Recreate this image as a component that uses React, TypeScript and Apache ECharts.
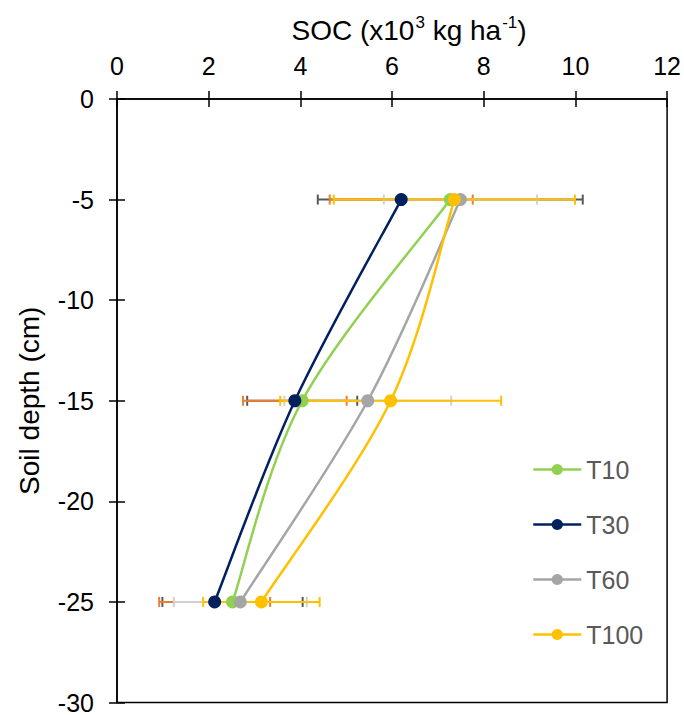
import React, { useEffect, useRef } from "react";
import * as echarts from "echarts";

const depths = [-5, -15, -25];
const seriesNames = ["T10", "T30", "T60", "T100"];
const t10 = [7.27, 4.04, 2.52];
const t30 = [6.2, 3.88, 2.13];
const t60 = [7.49, 5.47, 2.69];
const t100 = [7.36, 5.97, 3.15];
const t10Err = [2.89, 1.2, 1.53];
const t30Err = [1.56, 1.13, 1.21];
const t60Err = [1.67, 1.82, 1.45];
const t100Err = [2.63, 2.41, 1.27];

const lineColors = ["#92D050", "#002060", "#A5A5A5", "#FFC000"];
const errColors = ["#595959", "#ED7D31", "#D0D0D0", "#FFC000"];

const FONT = "Liberation Sans, Arial, sans-serif";

export default function App() {
  const ref = useRef<HTMLDivElement>(null);
  useEffect(() => {
    const chart = echarts.init(ref.current!, null, { renderer: "svg" });
    const values = [t10, t30, t60, t100];
    const errs = [t10Err, t30Err, t60Err, t100Err];

    const errSeries = values.map((vals, si) => ({
      type: "custom",
      name: "err" + si,
      xAxisIndex: 0,
      yAxisIndex: 0,
      z: 1,
      silent: true,
      data: vals.map((v, i) => [v, depths[i], errs[si][i]]),
      renderItem: (params: any, api: any) => {
        const x = api.value(0);
        const y = api.value(1);
        const e = api.value(2);
        const p1 = api.coord([x - e, y]);
        const p2 = api.coord([x + e, y]);
        const h = 5;
        const style = { stroke: errColors[si], lineWidth: 2 };
        return {
          type: "group",
          children: [
            { type: "line", shape: { x1: p1[0], y1: p1[1], x2: p2[0], y2: p2[1] }, style },
            { type: "line", shape: { x1: p1[0], y1: p1[1] - h, x2: p1[0], y2: p1[1] + h }, style },
            { type: "line", shape: { x1: p2[0], y1: p2[1] - h, x2: p2[0], y2: p2[1] + h }, style },
          ],
        };
      },
    }));

    // Excel-like smoothed curves: Catmull-Rom style Bezier (tension 1/6)
    const curveSeries = values.map((vals, si) => ({
      type: "custom",
      name: "curve" + si,
      xAxisIndex: 0,
      yAxisIndex: 0,
      z: 2,
      silent: true,
      data: vals.map((v, i) => [v, depths[i]]),
      renderItem: (params: any, api: any) => {
        const i = params.dataIndex;
        const n = vals.length;
        if (i >= n - 1) return { type: "group", children: [] };
        const pt = (k: number) => {
          const kk = Math.max(0, Math.min(n - 1, k));
          return api.coord([vals[kk], depths[kk]]);
        };
        const p0 = pt(i - 1);
        const p1 = pt(i);
        const p2 = pt(i + 1);
        const p3 = pt(i + 2);
        const c1 = [p1[0] + (p2[0] - p0[0]) / 6, p1[1] + (p2[1] - p0[1]) / 6];
        const c2 = [p2[0] - (p3[0] - p1[0]) / 6, p2[1] - (p3[1] - p1[1]) / 6];
        return {
          type: "bezierCurve",
          shape: { x1: p1[0], y1: p1[1], cpx1: c1[0], cpy1: c1[1], cpx2: c2[0], cpy2: c2[1], x2: p2[0], y2: p2[1] },
          style: { stroke: lineColors[si], lineWidth: 2.5, fill: "none" },
        };
      },
    }));

    const lineSeries = values.map((vals, si) => ({
      type: "line",
      name: seriesNames[si],
      xAxisIndex: 0,
      yAxisIndex: 0,
      z: 3,
      symbol: "circle",
      symbolSize: 13,
      lineStyle: { color: lineColors[si], width: 2.5, opacity: 0 },
      itemStyle: { color: lineColors[si] },
      data: vals.map((v, i) => [v, depths[i]]),
    }));

    const axisLineStyle = { color: "#000", width: 1.5 };
    const labelStyle = { color: "#000", fontSize: 25, fontFamily: FONT };

    chart.setOption({
      animation: false,
      textStyle: { fontFamily: FONT },
      grid: {
        left: 117,
        top: 99,
        right: 14,
        bottom: 12,
        show: true,
        borderColor: "#000",
        borderWidth: 1.5,
        backgroundColor: "transparent",
      },
      legend: {
        data: seriesNames.map((nm, si) => ({
          name: nm,
          lineStyle: { color: lineColors[si], width: 2.5, opacity: 1 },
        })),
        orient: "vertical",
        left: 527,
        top: 452,
        itemWidth: 48,
        itemHeight: 14,
        itemGap: 30,
        textStyle: { color: "#595959", fontSize: 25, fontFamily: FONT },
      },
      xAxis: [
        {
          type: "value",
          position: "top",
          min: 0,
          max: 12,
          interval: 2,
          name: "{a|SOC (x10}{s|3}{a| kg ha}{s|-1}{a|)}",
          nameLocation: "middle",
          nameGap: 55,
          nameTextStyle: {
            padding: [0, 0, 0, 34],
            rich: {
              a: { fontSize: 28, color: "#000", fontFamily: FONT, lineHeight: 30, verticalAlign: "bottom" },
              s: { fontSize: 17, color: "#000", fontFamily: FONT, lineHeight: 30, verticalAlign: "top", padding: [0, 0, 0, 1] },
            },
          },
          axisLine: { show: true, lineStyle: axisLineStyle },
          axisTick: { show: true, inside: false, length: 8, lineStyle: axisLineStyle },
          axisLabel: { ...labelStyle, margin: 21 },
          splitLine: { show: false },
        },
        {
          type: "value",
          position: "top",
          min: 0,
          max: 12,
          interval: 2,
          axisLine: { show: false },
          axisTick: { show: true, inside: true, length: 8, lineStyle: axisLineStyle },
          axisLabel: { show: false },
          splitLine: { show: false },
        },
      ],
      yAxis: [
        {
          type: "value",
          position: "left",
          min: -30,
          max: 0,
          interval: 5,
          name: "Soil depth (cm)",
          nameLocation: "middle",
          nameGap: 74,
          nameTextStyle: { color: "#000", fontSize: 28, fontFamily: FONT },
          axisLine: { show: true, lineStyle: axisLineStyle },
          axisTick: { show: true, inside: false, length: 8, lineStyle: axisLineStyle },
          axisLabel: { ...labelStyle, margin: 23 },
          splitLine: { show: false },
        },
        {
          type: "value",
          position: "left",
          min: -30,
          max: 0,
          interval: 5,
          axisLine: { show: false },
          axisTick: { show: true, inside: true, length: 8, lineStyle: axisLineStyle },
          axisLabel: { show: false },
          splitLine: { show: false },
        },
      ],
      series: [...errSeries, ...curveSeries, ...lineSeries],
    });
    return () => chart.dispose();
  }, []);
  return <div ref={ref} style={{ width: 684, height: 715, position: "absolute", left: 0, top: 0, background: "#fff" }} />;
}
